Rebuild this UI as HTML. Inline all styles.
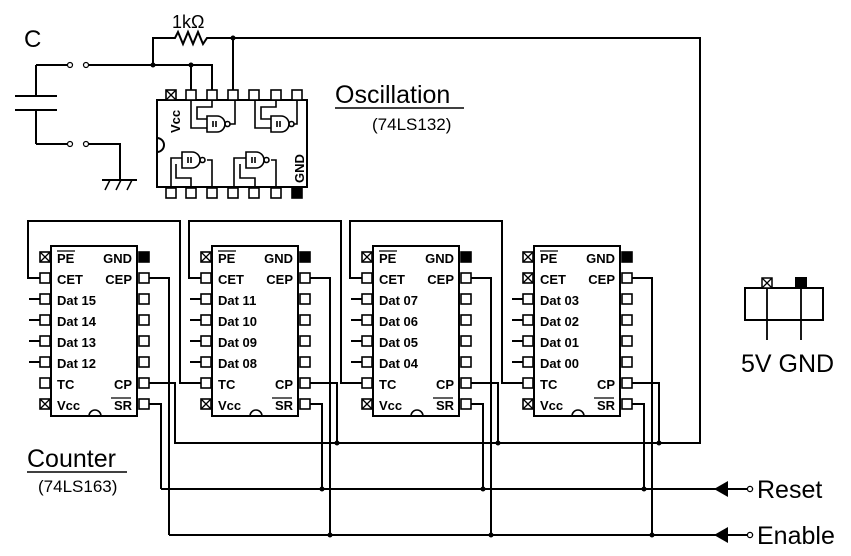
<!DOCTYPE html>
<html><head><meta charset="utf-8"><style>
html,body{margin:0;padding:0;background:#fff;}
svg{display:block;}
.l{font-family:"Liberation Sans",sans-serif;font-weight:bold;font-size:13px;fill:#000;}
.b{font-family:"Liberation Sans",sans-serif;fill:#000;}
</style></head><body>
<svg width="851" height="556" viewBox="0 0 851 556" xmlns="http://www.w3.org/2000/svg">
<g fill="none" stroke="#000" stroke-width="2">
<!-- capacitor & switches -->
<path d="M15 96H57M15 110H57M36 65V96M36 110V144M36 65H68M36 144H68M88 65H212V90M88 144H120V180M102 180H137"/>
<path d="M105 190L110 180M116 190L121 180M127 190L132 180" stroke-width="1.5"/>
<circle cx="70" cy="65" r="2.5" stroke-width="1.2"/><circle cx="86" cy="65" r="2.5" stroke-width="1.2"/>
<circle cx="70" cy="144" r="2.5" stroke-width="1.2"/><circle cx="86" cy="144" r="2.5" stroke-width="1.2"/>
<path d="M153 65V38H175L178 32L183 44L188 32L193 44L198 32L203 44L207 38H211"/>
<path d="M191 65V90"/>
<path d="M233 38V90"/>
<!-- clock loop -->
<path d="M211 38H700V443H175V383H149"/>
<!-- osc chip -->
<rect x="157" y="100" width="150" height="87"/>
<path d="M157 138a7 7 0 0 1 0 14"/>
</g>
<g fill="#fff" stroke="#000" stroke-width="1.6">
<rect x="166" y="90" width="10" height="10"/><rect x="186" y="90" width="10" height="10"/><rect x="207" y="90" width="10" height="10"/><rect x="228" y="90" width="10" height="10"/><rect x="249" y="90" width="10" height="10"/><rect x="271" y="90" width="10" height="10"/><rect x="292" y="90" width="10" height="10"/>
<rect x="166" y="188" width="10" height="10"/><rect x="186" y="188" width="10" height="10"/><rect x="207" y="188" width="10" height="10"/><rect x="228" y="188" width="10" height="10"/><rect x="249" y="188" width="10" height="10"/><rect x="271" y="188" width="10" height="10"/><rect x="292" y="188" width="10" height="10" fill="#000"/>
</g>
<path d="M166 90L176 100M176 90L166 100" stroke="#000" stroke-width="1.3"/>
<!-- gates -->
<g fill="none" stroke="#000" stroke-width="1.6">
<path d="M191 100V128H207M212 100V107H197V119H207M230 124H235V100"/>
<path d="M207 116H217a8 8 0 0 1 0 16H207Z"/><circle cx="227.5" cy="124" r="2.5"/>
<path d="M255 100V128H271M276 100V107H261V119H271M294 124H297V100"/>
<path d="M271 116H281a8 8 0 0 1 0 16H271Z"/><circle cx="291.5" cy="124" r="2.5"/>
<path d="M171 188V158H182M176 164V178H191V188M207 160H212V188"/>
<path d="M182 152H192a8 8 0 0 1 0 16H182Z"/><circle cx="202.5" cy="160" r="2.5"/>
<path d="M234 188V158H246M240 164V178H255V188M271 160H276V188"/>
<path d="M246 152H256a8 8 0 0 1 0 16H246Z"/><circle cx="266.5" cy="160" r="2.5"/>
</g>
<g class="l" font-size="9">
<path d="M213 121V127M216 121V127" stroke="#000" stroke-width="1.6"/>
<path d="M277 121V127M280 121V127" stroke="#000" stroke-width="1.6"/>
<path d="M188 157V163M191 157V163" stroke="#000" stroke-width="1.6"/>
<path d="M252 157V163M255 157V163" stroke="#000" stroke-width="1.6"/>
</g>
<text class="l" transform="translate(180,133) rotate(-90)" font-size="12">Vcc</text>
<text class="l" transform="translate(304,183) rotate(-90)" font-size="12">GND</text>

<!-- labels -->
<text class="b" x="24" y="47" font-size="24">C</text>
<text class="b" x="172" y="28" font-size="18">1kΩ</text>
<text class="b" x="335" y="103" font-size="25">Oscillation</text>
<path d="M335 108H464" stroke="#000" stroke-width="1.5"/>
<text class="b" x="372" y="130" font-size="17">(74LS132)</text>
<text class="b" x="27" y="467" font-size="25">Counter</text>
<path d="M27 472H127" stroke="#000" stroke-width="1.5"/>
<text class="b" x="38" y="492" font-size="17">(74LS163)</text>

<!-- bus lines -->
<g fill="none" stroke="#000" stroke-width="2">
<path d="M161 489H716M169 535H716"/>
<path d="M149 404H161V489M149 278H169V535"/>
<path d="M310 404H322V489M310 278H330V535M310 383H337V443"/>
<path d="M471 404H483V489M471 278H491V535M471 383H498V443"/>
<path d="M632 404H644V489M632 278H652V535M632 383H659V443"/>
<!-- CET links -->
<path d="M40 278H28V221H180V383H201"/>
<path d="M201 278H189V221H341V383H362"/>
<path d="M362 278H350V221H502V383H523"/>
<!-- data -->
<path d="M29 299H40M29 320H40M29 341H40M29 362H40"/>
<path d="M190 299H201M190 320H201M190 341H201M190 362H201"/>
<path d="M351 299H362M351 320H362M351 341H362M351 362H362"/>
<path d="M512 299H523M512 320H523M512 341H523M512 362H523"/>
<path d="M728 489H747M728 535H747"/>
</g>
<polygon points="714,489 728,481 728,497" fill="#000"/>
<polygon points="714,535 728,527 728,543" fill="#000"/>
<circle cx="750" cy="489" r="2.6" fill="#fff" stroke="#000" stroke-width="1.3"/>
<circle cx="750" cy="535" r="2.6" fill="#fff" stroke="#000" stroke-width="1.3"/>
<text class="b" x="757" y="498" font-size="25">Reset</text>
<text class="b" x="757" y="544" font-size="25">Enable</text>
<g fill="#000">
<circle cx="153" cy="65" r="2.5"/><circle cx="191" cy="65" r="2.5"/><circle cx="233" cy="38" r="2.5"/>
<circle cx="337" cy="443" r="2.5"/><circle cx="498" cy="443" r="2.5"/><circle cx="659" cy="443" r="2.5"/>
<circle cx="322" cy="489" r="2.5"/><circle cx="483" cy="489" r="2.5"/><circle cx="644" cy="489" r="2.5"/>
<circle cx="330" cy="535" r="2.5"/><circle cx="491" cy="535" r="2.5"/><circle cx="652" cy="535" r="2.5"/>
</g>

<!-- counter chips -->
<g id="c1">
<rect x="51" y="246" width="86" height="170" fill="#fff" stroke="#000" stroke-width="2"/>
<path d="M89 416a6 6 0 0 1 12 0" fill="none" stroke="#000" stroke-width="1.6"/>
<g fill="#fff" stroke="#000" stroke-width="1.6">
<rect x="40" y="252" width="10" height="10"/><rect x="40" y="273" width="10" height="10"/><rect x="40" y="294" width="10" height="10"/><rect x="40" y="315" width="10" height="10"/><rect x="40" y="336" width="10" height="10"/><rect x="40" y="357" width="10" height="10"/><rect x="40" y="378" width="10" height="10"/><rect x="40" y="399" width="10" height="10"/>
<rect x="139" y="252" width="10" height="10" fill="#000"/><rect x="139" y="273" width="10" height="10"/><rect x="139" y="294" width="10" height="10"/><rect x="139" y="315" width="10" height="10"/><rect x="139" y="336" width="10" height="10"/><rect x="139" y="357" width="10" height="10"/><rect x="139" y="378" width="10" height="10"/><rect x="139" y="399" width="10" height="10"/>
</g>
<path d="M40 252L50 262M50 252L40 262M40 399L50 409M50 399L40 409M57 251H75M111 398H131" stroke="#000" stroke-width="1.3"/>
<text class="l" x="57" y="263">PE</text><text class="l" x="57" y="284">CET</text><text class="l" x="57" y="305">Dat 15</text><text class="l" x="57" y="326">Dat 14</text><text class="l" x="57" y="347">Dat 13</text><text class="l" x="57" y="368">Dat 12</text><text class="l" x="57" y="389">TC</text><text class="l" x="57" y="410">Vcc</text>
<text class="l" x="132" y="263" text-anchor="end">GND</text><text class="l" x="132" y="284" text-anchor="end">CEP</text><text class="l" x="132" y="389" text-anchor="end">CP</text><text class="l" x="132" y="410" text-anchor="end">SR</text>
</g>
<g transform="translate(161,0)">
<rect x="51" y="246" width="86" height="170" fill="#fff" stroke="#000" stroke-width="2"/>
<path d="M89 416a6 6 0 0 1 12 0" fill="none" stroke="#000" stroke-width="1.6"/>
<g fill="#fff" stroke="#000" stroke-width="1.6">
<rect x="40" y="252" width="10" height="10"/><rect x="40" y="273" width="10" height="10"/><rect x="40" y="294" width="10" height="10"/><rect x="40" y="315" width="10" height="10"/><rect x="40" y="336" width="10" height="10"/><rect x="40" y="357" width="10" height="10"/><rect x="40" y="378" width="10" height="10"/><rect x="40" y="399" width="10" height="10"/>
<rect x="139" y="252" width="10" height="10" fill="#000"/><rect x="139" y="273" width="10" height="10"/><rect x="139" y="294" width="10" height="10"/><rect x="139" y="315" width="10" height="10"/><rect x="139" y="336" width="10" height="10"/><rect x="139" y="357" width="10" height="10"/><rect x="139" y="378" width="10" height="10"/><rect x="139" y="399" width="10" height="10"/>
</g>
<path d="M40 252L50 262M50 252L40 262M40 399L50 409M50 399L40 409M57 251H75M111 398H131" stroke="#000" stroke-width="1.3"/>
<text class="l" x="57" y="263">PE</text><text class="l" x="57" y="284">CET</text><text class="l" x="57" y="305">Dat 11</text><text class="l" x="57" y="326">Dat 10</text><text class="l" x="57" y="347">Dat 09</text><text class="l" x="57" y="368">Dat 08</text><text class="l" x="57" y="389">TC</text><text class="l" x="57" y="410">Vcc</text>
<text class="l" x="132" y="263" text-anchor="end">GND</text><text class="l" x="132" y="284" text-anchor="end">CEP</text><text class="l" x="132" y="389" text-anchor="end">CP</text><text class="l" x="132" y="410" text-anchor="end">SR</text>
</g>
<g transform="translate(322,0)">
<rect x="51" y="246" width="86" height="170" fill="#fff" stroke="#000" stroke-width="2"/>
<path d="M89 416a6 6 0 0 1 12 0" fill="none" stroke="#000" stroke-width="1.6"/>
<g fill="#fff" stroke="#000" stroke-width="1.6">
<rect x="40" y="252" width="10" height="10"/><rect x="40" y="273" width="10" height="10"/><rect x="40" y="294" width="10" height="10"/><rect x="40" y="315" width="10" height="10"/><rect x="40" y="336" width="10" height="10"/><rect x="40" y="357" width="10" height="10"/><rect x="40" y="378" width="10" height="10"/><rect x="40" y="399" width="10" height="10"/>
<rect x="139" y="252" width="10" height="10" fill="#000"/><rect x="139" y="273" width="10" height="10"/><rect x="139" y="294" width="10" height="10"/><rect x="139" y="315" width="10" height="10"/><rect x="139" y="336" width="10" height="10"/><rect x="139" y="357" width="10" height="10"/><rect x="139" y="378" width="10" height="10"/><rect x="139" y="399" width="10" height="10"/>
</g>
<path d="M40 252L50 262M50 252L40 262M40 399L50 409M50 399L40 409M57 251H75M111 398H131" stroke="#000" stroke-width="1.3"/>
<text class="l" x="57" y="263">PE</text><text class="l" x="57" y="284">CET</text><text class="l" x="57" y="305">Dat 07</text><text class="l" x="57" y="326">Dat 06</text><text class="l" x="57" y="347">Dat 05</text><text class="l" x="57" y="368">Dat 04</text><text class="l" x="57" y="389">TC</text><text class="l" x="57" y="410">Vcc</text>
<text class="l" x="132" y="263" text-anchor="end">GND</text><text class="l" x="132" y="284" text-anchor="end">CEP</text><text class="l" x="132" y="389" text-anchor="end">CP</text><text class="l" x="132" y="410" text-anchor="end">SR</text>
</g>
<g transform="translate(483,0)">
<rect x="51" y="246" width="86" height="170" fill="#fff" stroke="#000" stroke-width="2"/>
<path d="M89 416a6 6 0 0 1 12 0" fill="none" stroke="#000" stroke-width="1.6"/>
<g fill="#fff" stroke="#000" stroke-width="1.6">
<rect x="40" y="252" width="10" height="10"/><rect x="40" y="273" width="10" height="10"/><rect x="40" y="294" width="10" height="10"/><rect x="40" y="315" width="10" height="10"/><rect x="40" y="336" width="10" height="10"/><rect x="40" y="357" width="10" height="10"/><rect x="40" y="378" width="10" height="10"/><rect x="40" y="399" width="10" height="10"/>
<rect x="139" y="252" width="10" height="10" fill="#000"/><rect x="139" y="273" width="10" height="10"/><rect x="139" y="294" width="10" height="10"/><rect x="139" y="315" width="10" height="10"/><rect x="139" y="336" width="10" height="10"/><rect x="139" y="357" width="10" height="10"/><rect x="139" y="378" width="10" height="10"/><rect x="139" y="399" width="10" height="10"/>
</g>
<path d="M40 252L50 262M50 252L40 262M40 273L50 283M50 273L40 283M40 399L50 409M50 399L40 409M57 251H75M111 398H131" stroke="#000" stroke-width="1.3"/>
<text class="l" x="57" y="263">PE</text><text class="l" x="57" y="284">CET</text><text class="l" x="57" y="305">Dat 03</text><text class="l" x="57" y="326">Dat 02</text><text class="l" x="57" y="347">Dat 01</text><text class="l" x="57" y="368">Dat 00</text><text class="l" x="57" y="389">TC</text><text class="l" x="57" y="410">Vcc</text>
<text class="l" x="132" y="263" text-anchor="end">GND</text><text class="l" x="132" y="284" text-anchor="end">CEP</text><text class="l" x="132" y="389" text-anchor="end">CP</text><text class="l" x="132" y="410" text-anchor="end">SR</text>
</g>

<!-- power connector -->
<rect x="745" y="288" width="78" height="32" fill="#fff" stroke="#000" stroke-width="2"/>
<rect x="762" y="278" width="10" height="10" fill="#fff" stroke="#000" stroke-width="1.5"/>
<path d="M762 278L772 288M772 278L762 288" stroke="#000" stroke-width="1.3"/>
<rect x="795" y="277" width="12" height="11" fill="#000"/>
<path d="M767 288V340M801 288V340" stroke="#000" stroke-width="1.8"/>
<text class="b" x="741" y="372" font-size="25">5V GND</text>
</svg>
</body></html>
